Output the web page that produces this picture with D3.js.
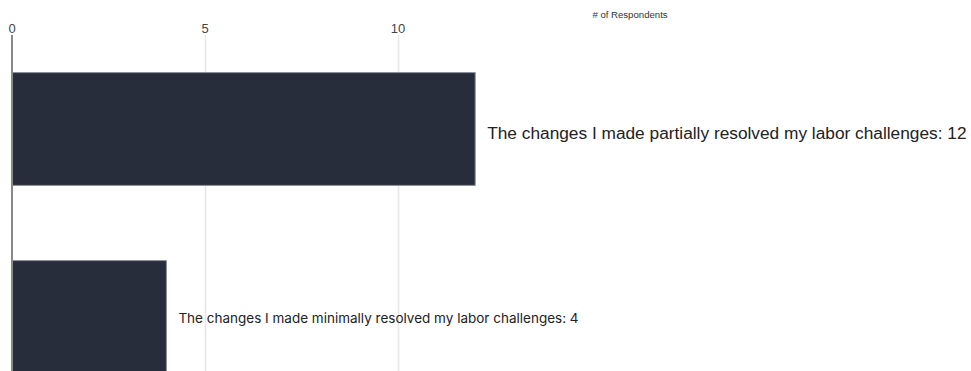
<!DOCTYPE html>
<html>
<head>
<meta charset="utf-8">
<script src="https://cdn.jsdelivr.net/npm/d3@7"></script>
<style>
  body { margin: 0; background: #fff; }
  svg { display: block; }
</style>
</head>
<body>
<div id="chart"></div>
<script>
const categories = [
  'The changes I made partially resolved my labor challenges',
  'The changes I made minimally resolved my labor challenges'
];
const counts = [12, 4];
const tickValues = [0, 5, 10];
const axisTitle = '# of Respondents';

const width = 971, height = 371;

const x = d3.scaleLinear()
  .domain([0, 10])
  .range([12, 398]);

const y = d3.scaleBand()
  .domain(categories)
  .range([35, 411])
  .paddingInner(0.4)
  .paddingOuter(0.2);

const svg = d3.select('#chart').append('svg')
  .attr('width', width)
  .attr('height', height);

// gridlines
svg.append('g')
  .selectAll('line')
  .data(tickValues.slice(1))
  .enter()
  .append('line')
  .attr('x1', d => x(d) + 0.5)
  .attr('x2', d => x(d) + 0.5)
  .attr('y1', 35)
  .attr('y2', height)
  .attr('stroke', '#e3e6ea')
  .attr('stroke-width', 1.5);

// tick labels on top
svg.append('g')
  .selectAll('text')
  .data(tickValues)
  .enter()
  .append('text')
  .attr('x', d => x(d))
  .attr('y', 33)
  .attr('text-anchor', 'middle')
  .attr('font-family', 'Liberation Sans, Arial, sans-serif')
  .attr('font-size', 13)
  .attr('fill', '#444')
  .text(d => d);

svg.append('text')
  .attr('x', 630)
  .attr('y', 18)
  .attr('text-anchor', 'middle')
  .attr('font-family', 'Liberation Sans, Arial, sans-serif')
  .attr('font-size', 9.6)
  .attr('fill', '#333')
  .text(axisTitle);

const data = categories.map((c, i) => ({ label: c, value: counts[i] }));

svg.append('g')
  .selectAll('rect')
  .data(data)
  .enter()
  .append('rect')
  .attr('x', x(0))
  .attr('y', d => y(d.label))
  .attr('width', d => x(d.value) - x(0))
  .attr('height', y.bandwidth())
  .attr('fill', '#272d3b')
  .attr('stroke', '#8a8e96')
  .attr('stroke-width', 1);

// axis line at 0
svg.append('line')
  .attr('x1', x(0))
  .attr('x2', x(0))
  .attr('y1', 35)
  .attr('y2', height)
  .attr('stroke', '#888')
  .attr('stroke-width', 2);

svg.append('g')
  .selectAll('text')
  .data(data)
  .enter()
  .append('text')
  .attr('x', d => x(d.value) + 12)
  .attr('y', (d, i) => y(d.label) + y.bandwidth() / 2 + (i === 0 ? 4 : 1))
  .attr('dy', '0.35em')
  .attr('font-family', (d, i) => i === 0 ? 'Liberation Sans, Arial, sans-serif' : 'Inter, sans-serif')
  .attr('font-size', (d, i) => i === 0 ? 17.3 : 13.5)
  .attr('fill', '#222')
  .text(d => `${d.label}: ${d.value}`);
</script>
</body>
</html>
